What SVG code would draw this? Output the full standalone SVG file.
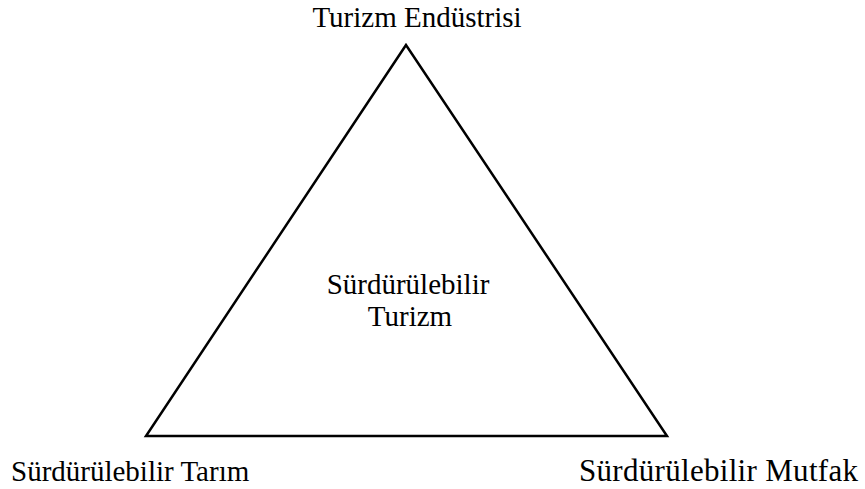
<svg xmlns="http://www.w3.org/2000/svg" width="865" height="489" viewBox="0 0 865 489">
<style>
text{font-family:"Liberation Serif","Times New Roman",serif;font-size:29px;fill:#000}
.big{font-size:31px}
.edge{fill:none;stroke:#000;stroke-width:2.5;stroke-linejoin:miter}
</style>
<rect width="865" height="489" fill="#fff"/>
<g id="connectors">
<polygon class="edge" points="406,45 146,436 667,436"/>
</g>
<g id="node-top"><text x="417" y="27" text-anchor="middle">Turizm Endüstrisi</text></g>
<g id="node-center"><text x="408" y="294" text-anchor="middle">Sürdürülebilir</text><text x="410" y="326" text-anchor="middle">Turizm</text></g>
<g id="node-left"><text x="11" y="481">Sürdürülebilir Tarım</text></g>
<g id="node-right"><text class="big" x="579" y="481" textLength="279" lengthAdjust="spacing">Sürdürülebilir Mutfak</text></g>
</svg>
